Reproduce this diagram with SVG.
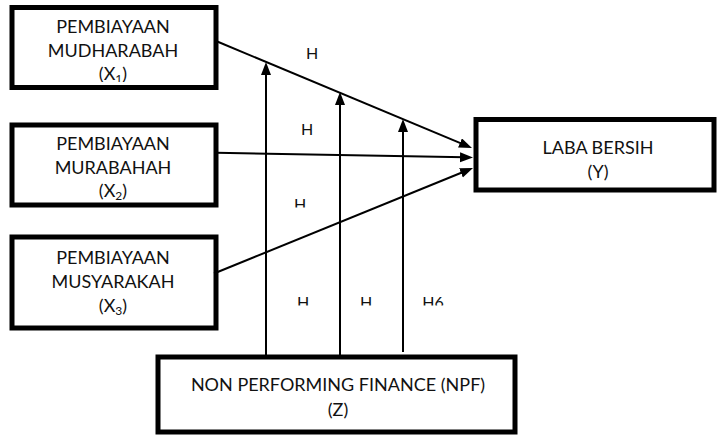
<svg xmlns="http://www.w3.org/2000/svg" width="718" height="436" viewBox="0 0 718 436">
<style>
.box{fill:#fff;stroke:#000;stroke-width:5}
.t{font-family:"Lato","Liberation Sans",sans-serif;font-size:18px;fill:#111;text-anchor:middle}
.h{font-family:"Lato","Liberation Sans",sans-serif;font-size:16px;fill:#111;text-anchor:middle}
.c{stroke:#000;stroke-width:2;fill:none;marker-end:url(#ah)}
</style>
<defs>
<marker id="ah" markerUnits="userSpaceOnUse" markerWidth="14" markerHeight="12" refX="5" refY="5" orient="auto">
<path d="M0,0 L13,5 L0,10 z" fill="#000"/>
</marker>
<clipPath id="c1"><rect x="0" y="0" width="718" height="82"/></clipPath>
<clipPath id="c2"><rect x="0" y="0" width="718" height="207.5"/></clipPath>
<clipPath id="c3"><rect x="0" y="0" width="718" height="305.5"/></clipPath>
</defs>
<rect width="718" height="436" fill="#fff"/>
<g id="x1">
<rect class="box" x="12" y="7.5" width="204" height="80"/>
<text class="t" x="113" y="33">PEMBIAYAAN</text>
<text class="t" x="113" y="57">MUDHARABAH</text>
<text class="t" x="113" y="80" clip-path="url(#c1)">(X<tspan font-size="12" dy="3">1</tspan><tspan dy="-3">)</tspan></text>
</g>
<g id="x2">
<rect class="box" x="12" y="125" width="204" height="80"/>
<text class="t" x="113" y="150">PEMBIAYAAN</text>
<text class="t" x="113" y="174">MURABAHAH</text>
<text class="t" x="113" y="197">(X<tspan font-size="12" dy="3">2</tspan><tspan dy="-3">)</tspan></text>
</g>
<g id="x3">
<rect class="box" x="12" y="237" width="204" height="91"/>
<text class="t" x="113" y="264">PEMBIAYAAN</text>
<text class="t" x="113" y="288">MUSYARAKAH</text>
<text class="t" x="113" y="312">(X<tspan font-size="12" dy="3">3</tspan><tspan dy="-3">)</tspan></text>
</g>
<g id="y">
<rect class="box" x="476" y="119.5" width="238" height="70.5"/>
<text class="t" x="598" y="154">LABA BERSIH</text>
<text class="t" x="598" y="178">(Y)</text>
</g>
<g id="z">
<rect class="box" x="158" y="357" width="357" height="75"/>
<text class="t" x="338" y="391" font-size="18.5">NON PERFORMING FINANCE (NPF)</text>
<text class="t" x="338" y="416">(Z)</text>
</g>
<g id="connectors">
<line class="c" x1="216" y1="41" x2="464.6" y2="144.9"/>
<line class="c" x1="216" y1="152.7" x2="465" y2="157.3"/>
<line class="c" x1="214" y1="273.5" x2="465.6" y2="171"/>
<line class="c" x1="266" y1="355" x2="266" y2="70"/>
<line class="c" x1="340" y1="355" x2="340" y2="100"/>
<line class="c" x1="403" y1="352" x2="403" y2="127"/>
</g>
<g id="labels">
<text class="h" x="312" y="59">H</text>
<text class="h" x="307" y="135">H</text>
<text class="h" x="300" y="209.5" clip-path="url(#c2)">H</text>
<text class="h" x="303" y="308" clip-path="url(#c3)">H</text>
<text class="h" x="366" y="308" clip-path="url(#c3)">H</text>
<text class="h" x="433" y="308" clip-path="url(#c3)">H6</text>
</g>
</svg>
